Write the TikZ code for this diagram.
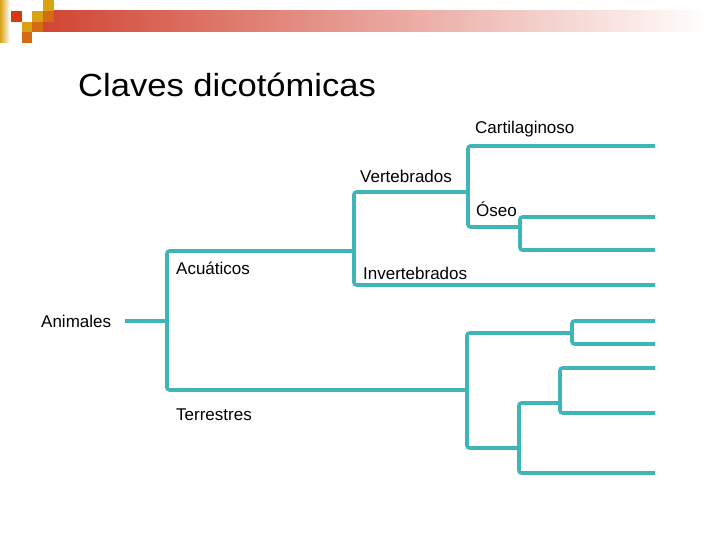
\documentclass[tikz,border=0pt]{standalone}
\usepackage{fontspec}
\setmainfont{Liberation Sans}
\definecolor{tree_c}{rgb}{
	0.25, 0.71, 0.72
	}
\definecolor{bar_c}{rgb}{
	0.82, 0.27, 0.20
	}
\definecolor{sq_red}{rgb}{
	0.83, 0.23, 0.07
	}
\definecolor{sq_gold}{rgb}{
	0.85, 0.63, 0.08
	}
\definecolor{sq_orange}{rgb}{
	0.83, 0.42, 0.07
	}
\usepackage{tikz}
\usetikzlibrary{positioning}

\begin{document}
\begin{tikzpicture}[
			x=1pt, y=-1pt,
			branch/.style = {draw=tree_c, line width=3.6pt, rounded corners=2.5pt},
			lbl/.style = {anchor=base west, inner sep=0pt, font=\fontsize{17}{20}\selectfont},
			]
			\useasboundingbox (0,0) rectangle (720,540);
			% header
			\shade[left color=sq_gold, right color=white] (0,0) rectangle (10,43);
			\shade[left color=bar_c, right color=white] (43,11) rectangle (710,32);
			\fill[sq_red] (11,11) rectangle (22,22);
			\fill[sq_gold] (22,22) rectangle (32,32);
			\fill[sq_orange] (22,32) rectangle (32,43);
			\fill[sq_gold] (32,11) rectangle (43,22);
			\fill[sq_orange] (32,22) rectangle (43,32);
			\fill[sq_gold] (43,0) rectangle (54,11);
			\fill[sq_orange] (43,11) rectangle (54,22);
			% title
			\node[anchor=base west, inner sep=0pt, font=\fontsize{32}{38}\selectfont]
			      (title) at (78,97) {\scalebox{1.08}[1]{Claves dicotómicas}};
			% splits
			\coordinate (root) at (125,321);
			\coordinate (s0) at (167,321);
			\coordinate (s1) at (354,251);
			\coordinate (s2) at (468,192);
			\coordinate (s3) at (520,227);
			\coordinate (s4) at (467,390);
			\coordinate (s5) at (572,333);
			\coordinate (s6) at (519,448);
			\coordinate (s7) at (560,403);
			% leaves
			\coordinate (l1) at (655,146);
			\coordinate (l2) at (655,217);
			\coordinate (l3) at (655,250);
			\coordinate (l4) at (655,285);
			\coordinate (l5) at (655,321);
			\coordinate (l6) at (655,344);
			\coordinate (l7) at (655,368);
			\coordinate (l8) at (655,413);
			\coordinate (l9) at (655,473);
			% edges
			\draw[branch] (root) -- (s0);
			\draw[branch] (s0) |- (s1);
			\draw[branch] (s0) |- (s4);
			\draw[branch] (s1) |- (s2);
			\draw[branch] (s1) |- (l4);
			\draw[branch] (s2) |- (l1);
			\draw[branch] (s2) |- (s3);
			\draw[branch] (s3) |- (l2);
			\draw[branch] (s3) |- (l3);
			\draw[branch] (s4) |- (s5);
			\draw[branch] (s4) |- (s6);
			\draw[branch] (s5) |- (l5);
			\draw[branch] (s5) |- (l6);
			\draw[branch] (s6) |- (s7);
			\draw[branch] (s6) |- (l9);
			\draw[branch] (s7) |- (l7);
			\draw[branch] (s7) |- (l8);
			% labels
			\node[lbl] (animales) at (41,327) {Animales};
			\node[lbl] (acuaticos) at (176,274) {Acuáticos};
			\node[lbl] (terrestres) at (176,420) {Terrestres};
			\node[lbl] (vertebrados) at (360,183) {Vertebrados};
			\node[lbl] (invertebrados) at (363,279) {Invertebrados};
			\node[lbl] (cartilaginoso) at (475,134) {Cartilaginoso};
			\node[lbl] (oseo) at (476,217) {Óseo};
		\end{tikzpicture}
\end{document}
